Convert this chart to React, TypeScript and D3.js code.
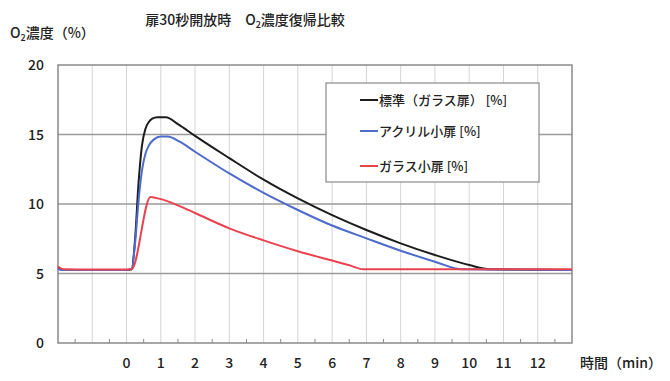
import React from "react";
import * as d3 from "d3";

const xTicks = [0, 1, 2, 3, 4, 5, 6, 7, 8, 9, 10, 11, 12];
const yTicks = [0, 5, 10, 15, 20];

const stdX = [-2, -1.9, -1.8, -1, 0, 0.15, 0.25, 0.35, 0.45, 0.55, 0.65, 0.75, 0.9, 1.15, 1.5, 2, 3, 4, 5, 6, 7, 8, 9, 10, 10.6, 13];
const stdY = [5.45, 5.3, 5.25, 5.25, 5.25, 5.3, 7.5, 11.5, 14.2, 15.4, 15.9, 16.15, 16.25, 16.25, 15.75, 14.9, 13.3, 11.75, 10.4, 9.2, 8.13, 7.17, 6.33, 5.61, 5.3, 5.25];

const acrX = [-2, -1.9, -1, 0, 0.15, 0.25, 0.35, 0.45, 0.55, 0.65, 0.8, 1.0, 1.2, 1.55, 2, 3, 4, 5, 6, 7, 8, 9, 9.8, 13];
const acrY = [5.35, 5.25, 5.25, 5.25, 5.3, 7.2, 10.2, 12.4, 13.6, 14.2, 14.65, 14.85, 14.85, 14.48, 13.76, 12.2, 10.8, 9.57, 8.45, 7.53, 6.64, 5.85, 5.3, 5.25];

const glsX = [-2, -1.9, -1.8, -1, 0, 0.15, 0.7, 1, 1.5, 2, 3, 4, 5, 6, 6.5, 6.9, 13];
const glsY = [5.5, 5.35, 5.3, 5.28, 5.28, 5.3, 10.5, 10.35, 9.9, 9.35, 8.25, 7.38, 6.6, 5.93, 5.6, 5.3, 5.3];

const seriesNames = ["標準（ガラス扉）", "アクリル小扉", "ガラス小扉"];
const seriesColors = ["#1c1c1c", "#4d6bcb", "#e8434f"];

export default function App() {
  const left = 58, right = 572, top = 65, bottom = 343;
  const x = d3.scaleLinear().domain([-2, 13]).range([left, right]);
  const y = d3.scaleLinear().domain([0, 20]).range([bottom, top]);
  const line = d3.line<[number, number]>().x(d => x(d[0])).y(d => y(d[1])).curve(d3.curveMonotoneX);
  const series = [
    stdX.map((v, i) => [v, stdY[i]] as [number, number]),
    acrX.map((v, i) => [v, acrY[i]] as [number, number]),
    glsX.map((v, i) => [v, glsY[i]] as [number, number]),
  ];
  const font = "'Noto Sans CJK JP', 'Noto Sans', sans-serif";
  const vGrid = d3.range(-1, 13, 1);
  const minor = d3.range(-1.5, 13, 1);
  const legendRows = [100, 131, 166];
  const txt = "#222";
  return (
    <svg width={670} height={381} style={{ position: "absolute", left: 0, top: 0, background: "#fff" }} fontFamily={font} fontWeight={500}>
      <rect x={0} y={0} width={670} height={381} fill="#fff" />
      <text x={245} y={25} fontSize={14} textAnchor="middle" fill={txt}>
        扉30秒開放時　O<tspan fontSize={9} dy={3}>2</tspan><tspan dy={-3}>濃度復帰比較</tspan>
      </text>
      <text x={10} y={38} fontSize={14} fill={txt}>
        O<tspan fontSize={9} dy={3}>2</tspan><tspan dy={-3}>濃度（%）</tspan>
      </text>
      {vGrid.map(v => (
        <line key={"v" + v} x1={x(v)} x2={x(v)} y1={top} y2={bottom} stroke="#d4d4d4" strokeWidth={1} />
      ))}
      {yTicks.filter(t => t > 0 && t < 20).map(t => (
        <line key={"h" + t} x1={left} x2={right} y1={y(t)} y2={y(t)} stroke="#9a9a9a" strokeWidth={1.5} />
      ))}
      {minor.map(v => (
        <line key={"m" + v} x1={x(v)} x2={x(v)} y1={bottom} y2={bottom - 4} stroke="#888" strokeWidth={1} />
      ))}
      <rect x={left} y={top} width={right - left} height={bottom - top} fill="none" stroke="#8a8a8a" strokeWidth={1.5} />
      {yTicks.map(t => (
        <text key={"yl" + t} x={44} y={y(t) + 5} fontSize={14} textAnchor="end" fill={txt}>{t}</text>
      ))}
      {xTicks.map(t => (
        <text key={"xl" + t} x={x(t)} y={368} fontSize={14} textAnchor="middle" fill={txt}>{t}</text>
      ))}
      <text x={580} y={368} fontSize={14} fill={txt}>時間（min）</text>
      {series.map((s, i) => (
        <path key={"s" + i} d={line(s) || ""} fill="none" stroke={seriesColors[i]} strokeWidth={2} />
      ))}
      <rect x={326} y={83} width={213} height={99} fill="#fff" stroke="#8a8a8a" strokeWidth={1.2} />
      {seriesNames.map((n, i) => (
        <g key={"lg" + i}>
          <line x1={360} x2={378} y1={legendRows[i]} y2={legendRows[i]} stroke={seriesColors[i]} strokeWidth={2} />
          <text x={379} y={legendRows[i] + 5} fontSize={13} fill={txt}>{n} [%]</text>
        </g>
      ))}
    </svg>
  );
}
